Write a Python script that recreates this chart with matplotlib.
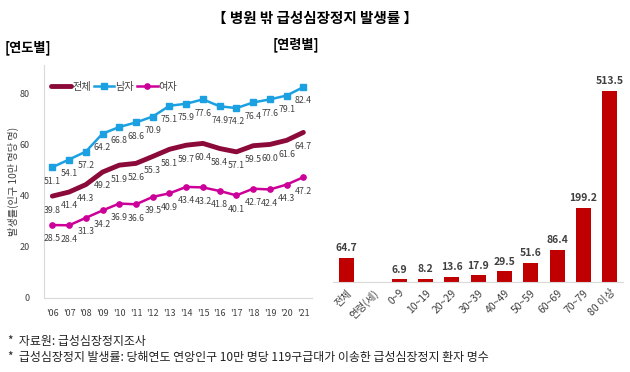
import matplotlib
matplotlib.use('Agg')
import matplotlib.pyplot as plt
import numpy as np

plt.rcParams['font.family'] = ['Noto Sans CJK KR', 'DejaVu Sans']

# yearly data
years = ["'06", "'07", "'08", "'09", "'10", "'11", "'12", "'13",
         "'14", "'15", "'16", "'17", "'18", "'19", "'20", "'21"]
total = [39.8, 41.4, 44.3, 49.2, 51.9, 52.6, 55.3, 58.1, 59.7, 60.4, 58.4, 57.1, 59.5, 60.0, 61.6, 64.7]
male = [51.1, 54.1, 57.2, 64.2, 66.8, 68.6, 70.9, 75.1, 75.9, 77.6, 74.9, 74.2, 76.4, 77.6, 79.1, 82.4]
female = [28.5, 28.4, 31.3, 34.2, 36.9, 36.6, 39.5, 40.9, 43.4, 43.2, 41.8, 40.1, 42.7, 42.4, 44.3, 47.2]

# by age
age_groups = ['전체', '연령(세)', '0~9', '10~19', '20~29', '30~39', '40~49',
              '50~59', '60~69', '70~79', '80 이상']
age_rates = [64.7, None, 6.9, 8.2, 13.6, 17.9, 29.5, 51.6, 86.4, 199.2, 513.5]

txt = '#404040'
fig = plt.figure(figsize=(6.3, 3.72), dpi=100)

fig.text(0.5, 0.953, '【 병원 밖 급성심장정지 발생률 】', ha='center', va='center',
         fontsize=10.5, fontweight='bold', color='black')
fig.text(0.008, 0.873, '[연도별]', ha='left', va='center', fontsize=9.5, fontweight='bold')
fig.text(0.432, 0.881, '[연령별]', ha='left', va='center', fontsize=9.5, fontweight='bold')

# ---- left: line chart
ax1 = fig.add_axes([0.0698, 0.199, 0.425, 0.626])
x = np.arange(len(years))
ax1.plot(x, total, color='#8B0A3A', linewidth=3.5, label='전체', solid_capstyle='round')
ax1.plot(x, male, color='#1BA1E2', linewidth=1.8, marker='s', markersize=4.5, label='남자')
ax1.plot(x, female, color='#CC0099', linewidth=1.8, marker='o', markersize=3.8, label='여자')

for series in (total, male, female):
    for xi, v in zip(x, series):
        ax1.annotate(f'{v:.1f}', (xi, v), xytext=(0, -10), textcoords='offset points',
                     ha='center', va='center', fontsize=6.3, color=txt)

ax1.set_xlim(-0.5, 15.5)
ax1.set_ylim(0, 91)
ax1.set_yticks([0, 20, 40, 60, 80])
ax1.set_xticks(x)
ax1.set_xticklabels(years)
ax1.tick_params(axis='both', length=0, labelsize=6.5, colors=txt)
ax1.tick_params(axis='y', pad=10)
ax1.tick_params(axis='x', pad=8)
for s in ('top', 'right'):
    ax1.spines[s].set_visible(False)
for s in ('left', 'bottom'):
    ax1.spines[s].set_color('#d9d9d9')
    ax1.spines[s].set_linewidth(0.8)
ax1.set_ylabel('발생률(인구 10만 명당 명)', fontsize=7.3, color=txt, labelpad=0.5)
ax1.legend(loc='upper left', bbox_to_anchor=(0.0, 0.96), ncol=3, frameon=False,
           fontsize=7.3, handlelength=2.0, columnspacing=0.3, handletextpad=0.1,
           labelcolor=txt, borderaxespad=0.3)

# ---- right: bar chart
ax2 = fig.add_axes([0.529, 0.242, 0.46, 0.556])
xb = np.arange(len(age_groups))
vals = [v if v is not None else 0 for v in age_rates]
ax2.bar(xb, vals, width=0.57, color='#C00000')
for xi, v in zip(xb, age_rates):
    if v is not None:
        ax2.text(xi, v + 12, f'{v:.1f}', ha='center', va='bottom', fontsize=7.5,
                 fontweight='bold', color=txt)
ax2.set_xlim(-0.5, 10.5)
ax2.set_ylim(0, 556)
ax2.set_yticks([])
ax2.set_xticks(xb)
ax2.set_xticklabels(age_groups, rotation=45, ha='right', rotation_mode='anchor')
ax2.tick_params(axis='x', length=0, labelsize=7.5, colors=txt, pad=4)
for s in ('top', 'right', 'left'):
    ax2.spines[s].set_visible(False)
ax2.spines['bottom'].set_color('#d9d9d9')

# footnotes
fig.text(0.012, 0.083, '*  자료원: 급성심장정지조사', ha='left', va='center', fontsize=8.6, color='#222222')
fig.text(0.012, 0.04, '*  급성심장정지 발생률: 당해연도 연앙인구 10만 명당 119구급대가 이송한 급성심장정지 환자 명수',
         ha='left', va='center', fontsize=8.6, color='#222222')

fig.savefig('out.png', dpi=100)
